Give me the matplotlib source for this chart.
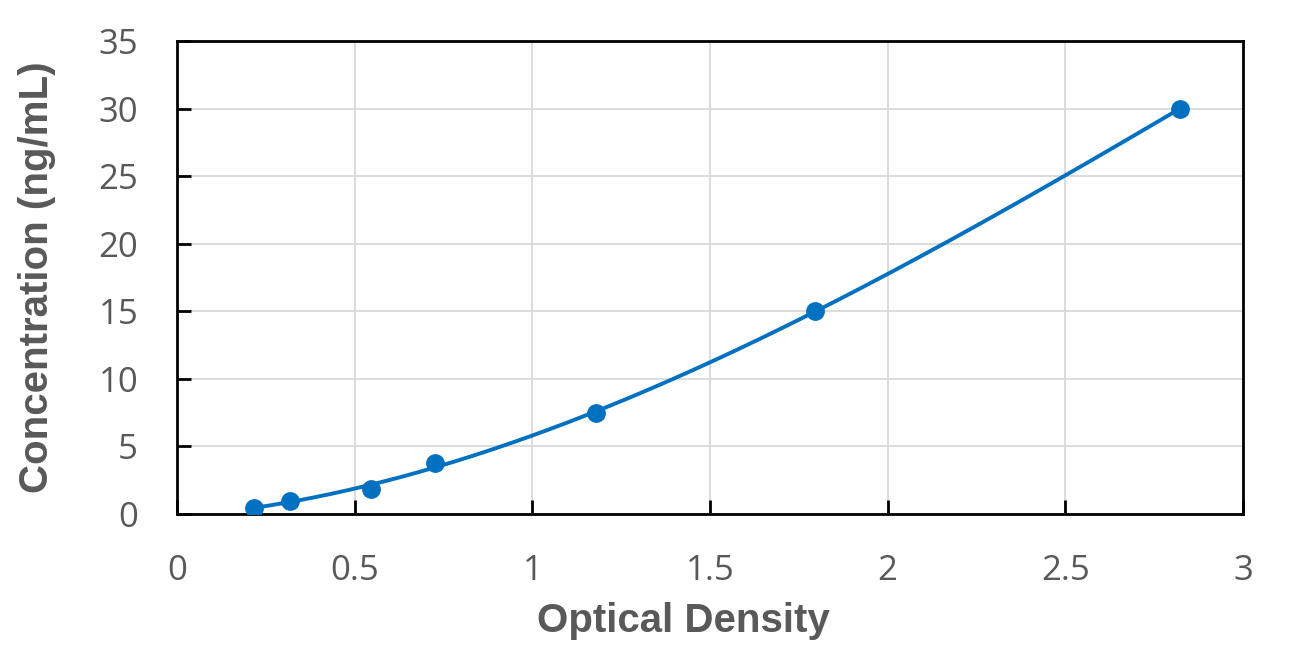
import numpy as np
import matplotlib
matplotlib.use("Agg")
import matplotlib.pyplot as plt

od = [0.217, 0.318, 0.546, 0.726, 1.179, 1.796, 2.823]
conc = [0.47, 0.94, 1.88, 3.75, 7.5, 15, 30]
xticks = [0, 0.5, 1, 1.5, 2, 2.5, 3]
yticks = [0, 5, 10, 15, 20, 25, 30, 35]

fig = plt.figure(figsize=(13.08, 6.59), dpi=100)
L, R, T, B = 177, 1243, 41, 514
ax = fig.add_axes([L/1308, 1-B/659, (R-L)/1308, (B-T)/659])

coef = np.polyfit(od, conc, 3)
xs = np.linspace(min(od), max(od), 300)
ax.plot(xs, np.polyval(coef, xs), color="#0070C0", lw=2.8, zorder=3)
ax.plot(od, conc, "o", color="#0070C0", ms=12.5, zorder=4)

ax.set_xlim(0, 3)
ax.set_ylim(0, 35)
ax.set_xticks(xticks)
ax.set_yticks(yticks)
ax.set_xticklabels([f"{t:g}" for t in xticks])
ax.set_yticklabels([f"{t:g}" for t in yticks])
ax.grid(True, color="#D9D9D9", lw=1.3)
ax.set_axisbelow(True)
for s in ax.spines.values():
    s.set_color("black")
    s.set_linewidth(2)
ax.tick_params(direction="in", length=10, width=2, colors="black",
               labelcolor="#595959", labelsize=25)
ax.tick_params(axis="x", pad=29)
ax.tick_params(axis="y", pad=28)
for lab in ax.get_xticklabels() + ax.get_yticklabels():
    lab.set_fontfamily("Open Sans")

ax.set_xlabel("Optical Density", fontsize=29, fontweight="bold",
              color="#595959", family="Liberation Sans", va="center")
ax.set_ylabel("Concentration (ng/mL)", fontsize=29, fontweight="bold",
              color="#595959", family="Liberation Sans", va="center")
ax.xaxis.set_label_coords((683 - L) / (R - L), (B - 621) / (B - T))
ax.yaxis.set_label_coords((37 - L) / (R - L), (B - 277) / (B - T))

fig.savefig("out.png", dpi=100)
